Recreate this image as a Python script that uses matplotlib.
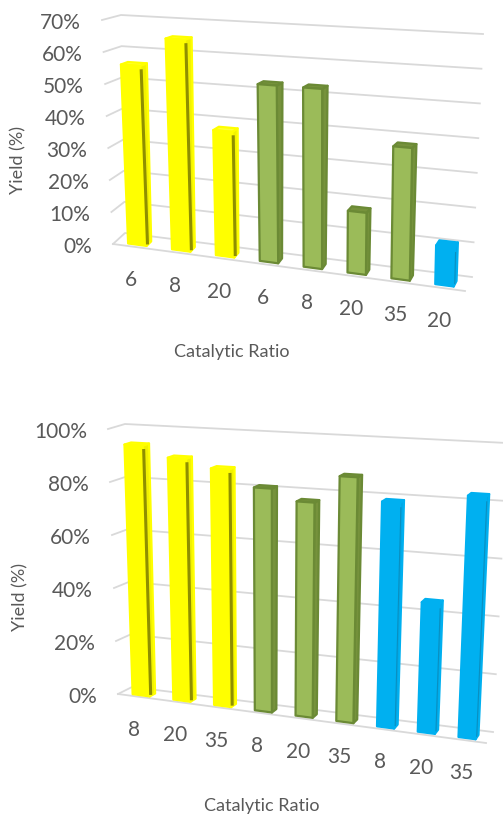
import numpy as np
import matplotlib.pyplot as plt
from matplotlib.patches import Polygon

plt.rcParams['font.family'] = ['Lato', 'DejaVu Sans']

# catalyst series: 0 = yellow, 1 = green, 2 = blue
top_labels = ['6', '8', '20', '6', '8', '20', '35', '20']
top_yield = [56, 65, 38, 53, 53, 18, 38, 11]
top_series = [0, 0, 0, 1, 1, 1, 1, 2]
top_ticks = [0, 10, 20, 30, 40, 50, 60, 70]

bottom_labels = ['8', '20', '35', '8', '20', '35', '8', '20', '35']
bottom_yield = [94, 90, 87, 81, 77, 87, 79, 45, 83]
bottom_series = [0, 0, 0, 1, 1, 1, 2, 2, 2]
bottom_ticks = [0, 20, 40, 60, 80, 100]

styles = {
    0: dict(front='#FFFF00', side='#F2F200', top='#FFFF33', edge='#FFFF00', stripe='#8F8F00'),
    1: dict(front='#9BBB59', side='#76923C', top='#76923C', edge='#6B8A35', stripe=None),
    2: dict(front='#00B0F0', side='#00A8E6', top='#00B0F0', edge='#00B0F0', stripe='#0A8FC0'),
}
text_color = '#595959'
grid_color = '#D9D9D9'

W, H = 503, 819
fig = plt.figure(figsize=(W / 100, H / 100), dpi=100)
ax = fig.add_axes([0, 0, 1, 1])
ax.set_xlim(0, W)
ax.set_ylim(H, 0)
ax.axis('off')


def make_proj(front, back):
    # box with a front plane and a back wall, each given by 4 corners
    def bil(c, u, v):
        top = (1 - u) * np.array(c['tl'], float) + u * np.array(c['tr'], float)
        bot = (1 - u) * np.array(c['bl'], float) + u * np.array(c['br'], float)
        return bot + v * (top - bot)

    def proj(u, v, z):
        return (1 - z) * bil(front, u, v) + z * bil(back, u, v)
    return proj


def draw_chart(proj, labels, values, series, ticks, title_xy, ylab_xy):
    ymax = ticks[-1]
    n = len(values)

    for t in ticks:
        v = t / ymax
        pts = np.array([proj(0, v, 0), proj(0, v, 1), proj(1, v, 1)])
        ax.plot(pts[:, 0], pts[:, 1], color=grid_color, lw=1.3,
                solid_joinstyle='round', zorder=1)
        ax.text(pts[0, 0] - 21, pts[0, 1] + 3, f'{t}%', ha='right', va='center',
                fontsize=15, color=text_color)
    floor = np.array([proj(0, 0, 0), proj(1, 0, 0)])
    ax.plot(floor[:, 0], floor[:, 1], color=grid_color, lw=1.3, zorder=1)

    z0, z1 = 0.2, 0.6
    for i, (val, s) in enumerate(zip(values, series)):
        st = styles[s]
        u0 = (i + 0.29) / n
        u1 = (i + 0.71) / n
        v = val / ymax
        front = [proj(u0, 0, z0), proj(u1, 0, z0), proj(u1, v, z0), proj(u0, v, z0)]
        side = [proj(u1, 0, z0), proj(u1, 0, z1), proj(u1, v, z1), proj(u1, v, z0)]
        top = [proj(u0, v, z0), proj(u1, v, z0), proj(u1, v, z1), proj(u0, v, z1)]
        for pts, fc in ((side, st['side']), (top, st['top']), (front, st['front'])):
            ax.add_patch(Polygon(pts, closed=True, facecolor=fc, edgecolor=st['edge'],
                                 lw=1.6, joinstyle='round', zorder=3))
        if st['stripe']:
            a = proj(u1, 0, z0)
            b = proj(u1, v, z0)
            d = (b - a) / np.hypot(*(b - a))
            a, b = a + d * 3, b - d * 5
            ax.plot([a[0] + 1, b[0] + 1], [a[1], b[1]], color=st['stripe'],
                    lw=2.2 if s == 0 else 0.8, zorder=4)

        p = proj((i + 0.5) / n, 0, 0)
        ax.text(p[0] - 4, p[1] + 33, labels[i], ha='center', va='center',
                fontsize=15, color=text_color)

    ax.text(*title_xy, 'Catalytic Ratio', ha='center', va='center',
            fontsize=13, color=text_color)
    ax.text(*ylab_xy, 'Yield (%)', ha='center', va='center', rotation=90,
            fontsize=13, color=text_color)


top_proj = make_proj(
    front=dict(tl=(102, 20), tr=(471, 41), bl=(113, 244), br=(465, 291)),
    back=dict(tl=(121, 15), tr=(483, 34), bl=(125, 233), br=(472, 277)),
)
bottom_proj = make_proj(
    front=dict(tl=(108, 429), tr=(499, 449), bl=(118, 694), br=(486, 743)),
    back=dict(tl=(125, 424), tr=(507, 443), bl=(132, 687), br=(493, 732)),
)

draw_chart(top_proj, top_labels, top_yield, top_series, top_ticks,
           (232, 352), (18, 160))
draw_chart(bottom_proj, bottom_labels, bottom_yield, bottom_series, bottom_ticks,
           (262, 806), (20, 597))

fig.savefig('out.png', dpi=100)
